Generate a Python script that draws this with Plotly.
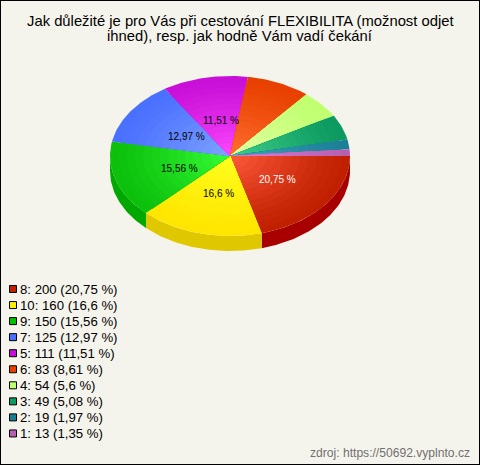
import math
import plotly.graph_objects as go

# --- data ---
categories = ["8", "10", "9", "7", "5", "6", "4", "3", "2", "1"]
counts = [200, 160, 150, 125, 111, 83, 54, 49, 19, 13]
percent_labels = ["20,75", "16,6", "15,56", "12,97", "11,51", "8,61", "5,6", "5,08", "1,97", "1,35"]
title_lines = ["Jak důležité je pro Vás při cestování FLEXIBILITA (možnost odjet",
               "ihned), resp. jak hodně Vám vadí čekání"]
source_text = "zdroj: https://50692.vyplnto.cz"

# --- style ---
edge_colors = ["#c02000", "#ffe600", "#0cc00c", "#4a70ff", "#c810d8", "#e84000", "#c0ff70", "#0c9a60", "#1a7f98", "#b860b0"]
center_colors = ["#ff5a3c", "#ffff20", "#36ff36", "#80a4ff", "#ff48ff", "#ff7030", "#e4ffa4", "#40d08c", "#44a8b8", "#e080e0"]
side_colors = ["#a80000", "#e0c800", "#00a800", "#3050c0", "#9000a0", "#b03000", "#90c050", "#007040", "#105870", "#904890"]
legend_colors = ["#c02000", "#ffee00", "#00c000", "#4a70ff", "#c810d8", "#e84000", "#c0ff70", "#0c9a60", "#1a7f90", "#b860b0"]
BG = "#f5f4ec"
CX, CY, RX, RY, DEPTH = 230, 156, 120, 80, 15
BANDS = 14
FONT = "Liberation Sans, Arial, sans-serif"

def mix(a, b, t):
    ca = [int(a[i:i+2], 16) for i in (1, 3, 5)]
    cb = [int(b[i:i+2], 16) for i in (1, 3, 5)]
    return "rgb(%d,%d,%d)" % tuple(round(x + (y - x) * t) for x, y in zip(ca, cb))

def arc(a0, a1, r=1.0, dy=0):
    n = max(2, int(abs(a1 - a0) * 60))
    angs = [a0 + (a1 - a0) * i / n for i in range(n + 1)]
    return [CX + RX * r * math.cos(t) for t in angs], [CY + dy + RY * r * math.sin(t) for t in angs]

fig = go.Figure()
total = sum(counts)
bounds = [0.0]
for c in counts:
    bounds.append(bounds[-1] + c / total * 2 * math.pi)

def poly(xs, ys, color):
    fig.add_trace(go.Scatter(x=xs, y=ys, mode="lines", fill="toself", fillcolor=color,
                             line=dict(width=0, color=color), hoverinfo="skip", showlegend=False))

# side wall (only the front half is visible)
for i in range(len(counts)):
    a0, a1 = bounds[i], min(bounds[i + 1], math.pi)
    if a0 >= math.pi:
        continue
    x1, y1 = arc(a0, a1)
    x2, y2 = arc(a1, a0, dy=DEPTH)
    poly(x1 + x2, y1 + y2, side_colors[i])

# top face with a radial shade, nested wedges from the rim inward
for i in range(len(counts)):
    a0, a1 = bounds[i], bounds[i + 1]
    for b in range(BANDS):
        f = b / BANDS
        r = 1 - f * 0.97
        xs, ys = arc(a0, a1, r)
        poly([CX] + xs + [CX], [CY] + ys + [CY], mix(edge_colors[i], center_colors[i], f ** 1.2))

# slice labels
for i, p in enumerate(percent_labels):
    if counts[i] / total < 0.10:
        continue
    mid = (bounds[i] + bounds[i + 1]) / 2
    fig.add_annotation(x=CX + 3 + 0.47 * RX * math.cos(mid), y=CY + 1 + 0.47 * RY * math.sin(mid),
                       text=p + " %", showarrow=False,
                       font=dict(family=FONT, size=10, color="#ffffff" if i == 0 else "#000000"))

# legend
LEG_Y0, LEG_STEP = 289, 16.05
leg_y = [LEG_Y0 + LEG_STEP * i for i in range(len(counts))]
fig.add_trace(go.Scatter(x=[13] * len(counts), y=leg_y, mode="markers", hoverinfo="skip", showlegend=False,
                         marker=dict(symbol="square", size=7, color=legend_colors,
                                     line=dict(color="#000000", width=1))))
for i, y in enumerate(leg_y):
    fig.add_annotation(x=20, y=y + 0.5, xanchor="left", showarrow=False, xshift=-2,
                       text=f"{categories[i]}: {counts[i]} ({percent_labels[i]} %)",
                       font=dict(family=FONT, size=13.2, color="#000000"))

# title and source
for y, line in zip((20.5, 35.5), title_lines):
    fig.add_annotation(x=240, y=y, showarrow=False, text=line,
                       font=dict(family=FONT, size=14.8, color="#000000"))
fig.add_annotation(x=470, y=453, xanchor="right", xshift=2, showarrow=False, text=source_text,
                   font=dict(family=FONT, size=12.1, color="#707070"))

fig.update_layout(
    width=480, height=465, margin=dict(l=0, r=0, t=0, b=0), autosize=False,
    paper_bgcolor=BG, plot_bgcolor=BG, showlegend=False,
    xaxis=dict(range=[0, 480], visible=False, fixedrange=True),
    yaxis=dict(range=[465, 0], visible=False, fixedrange=True),
    shapes=[dict(type="rect", xref="paper", yref="paper", x0=0, x1=1, y0=0, y1=1,
                 line=dict(color="#000000", width=2), fillcolor="rgba(0,0,0,0)")],
)
fig.write_html("out.html", config={"displayModeBar": False},
               post_script="document.body.style.margin='0';document.body.style.overflow='hidden';")
